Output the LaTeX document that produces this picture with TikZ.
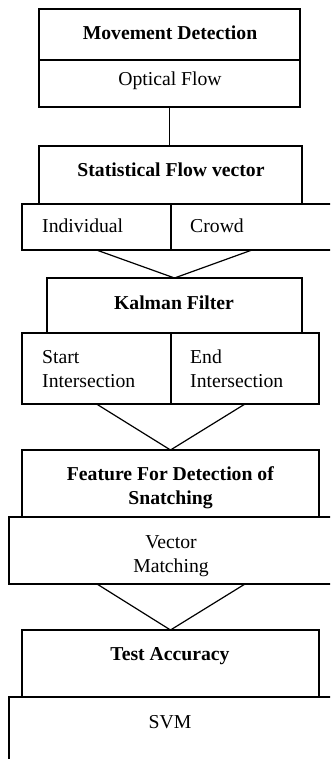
\documentclass[tikz,border=0pt]{standalone}
\usepackage{fontspec}
\setmainfont{Liberation Serif}
\usetikzlibrary{calc}
\begin{document}
\begin{tikzpicture}[x=1pt,y=-1pt,
  box/.style={draw, line width=1.2pt, inner sep=0pt, outer sep=0pt},
  conn/.style={draw, line width=1.2pt},
  bl/.style={anchor=base, inner sep=0pt, font=\fontsize{19.7}{24}\selectfont},
  bw/.style={anchor=base west, inner sep=0pt, font=\fontsize{19.7}{24}\selectfont}]
\useasboundingbox (0,0) rectangle (330,759);
\clip (0,0) rectangle (330,759);
% boxes
\node[box, minimum width=261pt, minimum height=51pt] (md) at (169.5,34.5) {};
\node[box, minimum width=261pt, minimum height=47pt] (of) at (169.5,83.5) {};
\node[box, minimum width=263pt, minimum height=58pt] (sfv) at (170.5,175) {};
\node[box, minimum width=149pt, minimum height=46pt] (ind) at (96.5,227) {};
\node[box, minimum width=162pt, minimum height=46pt] (crowd) at (252,227) {};
\node[box, minimum width=255pt, minimum height=55pt] (kf) at (174.5,305.5) {};
\node[box, minimum width=149pt, minimum height=71pt] (si) at (96.5,368.5) {};
\node[box, minimum width=148pt, minimum height=71pt] (ei) at (245,368.5) {};
\node[box, minimum width=297pt, minimum height=67pt] (feat) at (170.5,483.5) {};
\node[box, minimum width=324pt, minimum height=67pt] (vm) at (171,550.5) {};
\node[box, minimum width=297pt, minimum height=67pt] (ta) at (170.5,663.5) {};
\node[box, minimum width=324pt, minimum height=103pt] (svm) at (171,748.5) {};
% labels
\node[bl] (tmd) at (170,40) {\textbf{Movement Detection}};
\node[bl] (tof) at (170,86) {Optical Flow};
\node[bl] (tsfv) at (171,177) {\textbf{Statistical Flow vector}};
\node[bw] (tind) at (42,233) {Individual};
\node[bw] (tcrowd) at (190,233) {Crowd};
\node[bl] (tkf) at (174,309) {\textbf{Kalman Filter}};
\node[bw] (tsi1) at (42,363) {Start};
\node[bw] (tsi2) at (42,387) {Intersection};
\node[bw] (tei1) at (190,363) {End};
\node[bw] (tei2) at (190,387) {Intersection};
\node[bl] (tfeat1) at (170.5,480) {\textbf{Feature For Detection of}};
\node[bl] (tfeat2) at (170.5,504) {\textbf{Snatching}};
\node[bl] (tvm1) at (171,548) {Vector};
\node[bl] (tvm2) at (171,572) {Matching};
\node[bl] (tta) at (170,660) {\textbf{Test Accuracy}};
\node[bl] (tsvm) at (170,728) {SVM};
% connectors
\draw[conn] (of.south) -- (of.south |- sfv.north);
\draw[conn] (ind.south) -- (kf.north) -- (crowd.south);
\draw[conn] (si.south) -- (feat.north) -- (ei.south);
\coordinate (vml) at ($(vm.south)+(-74,0)$);
\coordinate (vmr) at ($(vm.south)+(74,0)$);
\draw[conn] (vml) -- (ta.north) -- (vmr);
\end{tikzpicture}
\end{document}
